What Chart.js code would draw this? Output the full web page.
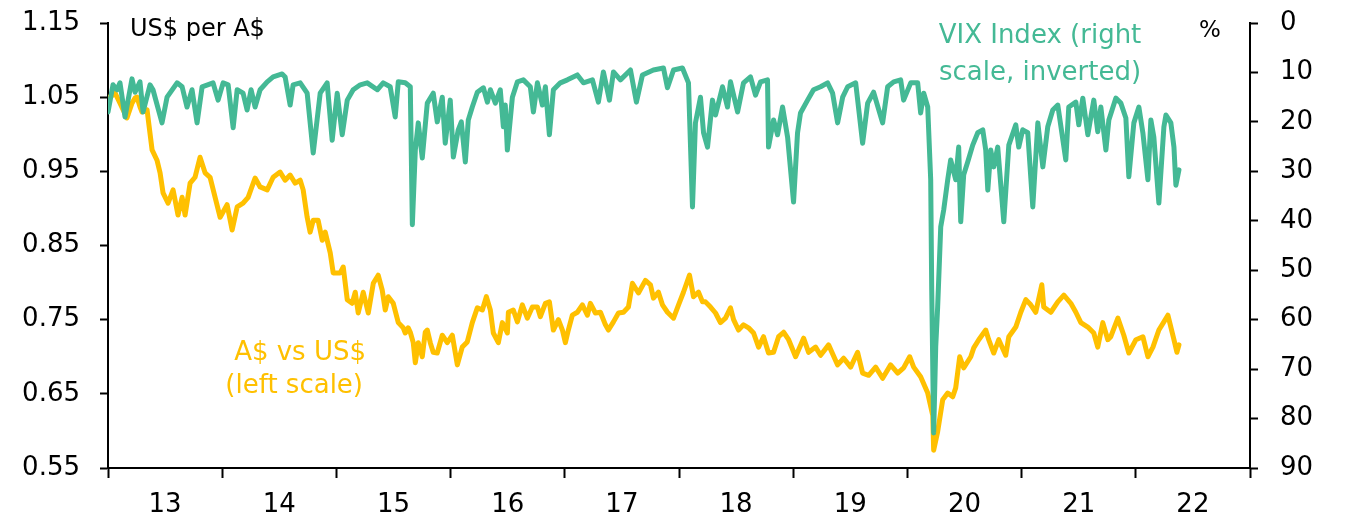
<!DOCTYPE html>
<html><head><meta charset="utf-8">
<script src="https://cdn.jsdelivr.net/npm/chart.js@4.4.0/dist/chart.umd.min.js"></script>
<style>html,body{margin:0;padding:0;background:#fff;} canvas{display:block;}</style>
</head><body>
<canvas id="c" width="1348" height="522"></canvas>
<script>
// ---- tick labels ----
const yearLabels = ['13','14','15','16','17','18','19','20','21','22'];
const leftTicks = [0.55, 0.65, 0.75, 0.85, 0.95, 1.05, 1.15];
const rightTicks = [0, 10, 20, 30, 40, 50, 60, 70, 80, 90];

// ---- VIX index (%, right scale, inverted) ----
const vixDates = [
 2013.000,2013.044,2013.079,2013.105,2013.149,2013.210,2013.237,2013.280,2013.307,2013.368,2013.394,2013.473,2013.517,2013.605,2013.649,2013.692,2013.736,2013.780,2013.824,2013.920,2013.964,
 2014.008,2014.052,2014.096,2014.131,2014.183,2014.218,2014.253,2014.288,2014.332,2014.394,2014.446,2014.525,2014.551,2014.595,2014.621,2014.683,2014.744,2014.797,2014.858,2014.919,2014.963,
 2015.007,2015.051,2015.095,2015.147,2015.209,2015.270,2015.358,2015.410,2015.471,2015.515,2015.542,2015.603,2015.647,2015.665,2015.691,2015.717,2015.752,2015.796,2015.848,2015.883,2015.927,2015.953,2015.997,
 2016.024,2016.067,2016.094,2016.129,2016.155,2016.190,2016.234,2016.287,2016.322,2016.348,2016.392,2016.435,2016.462,2016.479,2016.497,2016.541,2016.585,2016.637,2016.698,2016.725,2016.760,2016.804,2016.830,2016.865,2016.900,2016.961,
 2017.023,2017.110,2017.163,2017.242,2017.294,2017.338,2017.391,2017.426,2017.487,2017.575,2017.627,2017.680,2017.776,2017.864,2017.899,2017.952,
 2018.030,2018.083,2018.118,2018.144,2018.188,2018.215,2018.250,2018.293,2018.320,2018.381,2018.425,2018.451,2018.513,2018.565,2018.626,2018.670,2018.714,2018.775,2018.784,2018.828,2018.863,2018.907,2018.951,
 2019.003,2019.038,2019.064,2019.126,2019.178,2019.240,2019.301,2019.345,2019.389,2019.433,2019.477,2019.547,2019.608,2019.652,2019.704,2019.783,2019.827,2019.880,2019.941,2019.967,
 2020.029,2020.090,2020.116,2020.143,2020.178,2020.204,2020.213,2020.230,2020.248,2020.265,2020.292,2020.318,2020.353,2020.379,2020.423,2020.449,2020.467,2020.493,2020.528,2020.572,2020.616,2020.660,2020.686,2020.704,2020.730,2020.756,2020.791,2020.844,2020.888,2020.949,2020.975,
 2021.010,2021.054,2021.098,2021.142,2021.186,2021.229,2021.273,2021.317,2021.387,2021.413,2021.475,2021.501,2021.536,2021.580,2021.632,2021.667,2021.694,2021.738,2021.764,2021.825,2021.869,2021.913,2021.939,2021.983,
 2022.027,2022.062,2022.106,2022.132,2022.158,2022.202,2022.246,2022.264,2022.307,2022.334,2022.351,2022.378
];
const vixValues = [
 18.0,12.5,13.5,12.1,19.0,11.3,14.0,11.9,18.0,12.5,13.5,20.2,15.0,12.1,12.9,17.0,13.5,20.2,12.9,12.1,15.6,
 12.1,12.5,21.2,13.5,14.2,17.6,13.5,17.0,13.5,11.9,10.9,10.3,10.9,16.6,12.5,12.1,14.2,26.3,14.2,12.1,23.7,
 14.2,22.6,15.6,13.5,12.5,12.1,13.5,12.1,12.9,19.0,11.9,12.1,12.9,40.8,25.7,20.2,27.3,16.2,14.2,20.0,15.0,24.3,15.6,
 27.1,21.6,20.0,28.1,19.6,17.0,14.0,13.1,16.0,13.5,16.2,13.5,21.0,16.6,25.7,15.0,11.9,11.5,12.9,18.0,12.1,16.6,12.9,22.6,13.5,12.1,
 11.5,10.5,12.1,11.5,16.0,9.9,15.6,9.9,11.5,9.5,16.0,10.5,9.5,9.1,13.1,9.5,
 9.1,12.1,37.2,20.2,15.0,22.2,25.1,15.6,18.6,12.9,17.0,11.9,18.0,12.1,10.9,14.6,11.9,11.5,25.1,19.6,22.6,17.0,23.1,
 36.2,22.2,18.2,15.6,13.5,12.9,12.1,14.2,20.2,15.0,12.9,12.1,24.3,16.2,14.0,20.2,12.9,11.9,11.5,15.6,
 12.1,12.1,18.2,14.2,17.0,31.7,54.0,82.9,65.5,57.4,41.2,37.8,31.7,27.7,31.7,25.1,40.2,30.7,28.1,24.7,22.2,21.6,25.7,33.8,25.7,29.1,25.1,40.2,24.7,20.6,25.1,
 21.6,22.2,37.2,20.2,29.1,21.0,17.6,16.6,27.7,17.0,16.0,20.6,15.2,22.6,15.6,22.0,17.0,25.7,19.6,15.2,16.2,19.2,31.1,20.2,
 17.0,22.2,31.7,19.6,23.1,36.4,21.0,18.6,20.2,25.1,32.8,29.7
];

// ---- A$ vs US$ (US$ per A$, left scale) ----
const audDates = [
 2013.009,2013.044,2013.061,2013.105,2013.166,2013.210,2013.237,2013.254,2013.280,2013.298,2013.342,2013.359,2013.386,2013.429,2013.456,2013.482,2013.526,2013.570,2013.613,2013.649,2013.675,2013.719,2013.762,2013.806,2013.850,2013.894,2013.938,2013.982,
 2014.043,2014.087,2014.131,2014.183,2014.227,2014.288,2014.332,2014.394,2014.446,2014.507,2014.551,2014.595,2014.639,2014.683,2014.709,2014.744,2014.770,2014.797,2014.840,2014.876,2014.902,2014.946,2014.972,
 2015.033,2015.060,2015.095,2015.138,2015.165,2015.191,2015.235,2015.279,2015.323,2015.366,2015.401,2015.428,2015.454,2015.498,2015.542,2015.585,2015.603,2015.629,2015.647,2015.673,2015.691,2015.717,2015.752,2015.778,2015.796,2015.822,2015.848,2015.883,2015.927,2015.971,
 2016.015,2016.059,2016.102,2016.146,2016.190,2016.234,2016.278,2016.313,2016.348,2016.374,2016.418,2016.453,2016.497,2016.506,2016.549,2016.585,2016.628,2016.672,2016.716,2016.760,2016.786,2016.830,2016.865,2016.900,2016.944,2016.979,
 2017.005,2017.031,2017.066,2017.110,2017.154,2017.198,2017.224,2017.268,2017.312,2017.356,2017.382,2017.426,2017.470,2017.514,2017.557,2017.592,2017.645,2017.706,2017.750,2017.776,2017.820,2017.855,2017.899,2017.952,2017.996,
 2018.039,2018.092,2018.127,2018.171,2018.206,2018.232,2018.276,2018.320,2018.363,2018.407,2018.451,2018.478,2018.521,2018.565,2018.609,2018.653,2018.697,2018.740,2018.784,2018.828,2018.872,2018.916,2018.960,
 2019.021,2019.091,2019.135,2019.196,2019.240,2019.310,2019.389,2019.442,2019.503,2019.564,2019.608,2019.661,2019.722,2019.783,2019.853,2019.915,2019.967,
 2020.020,2020.055,2020.116,2020.178,2020.222,2020.230,2020.265,2020.309,2020.353,2020.397,2020.423,2020.458,2020.493,2020.555,2020.581,2020.625,2020.686,2020.712,2020.756,2020.800,2020.861,2020.888,2020.949,2020.993,
 2021.037,2021.080,2021.124,2021.177,2021.194,2021.256,2021.317,2021.370,2021.431,2021.475,2021.519,2021.580,2021.632,2021.667,2021.711,2021.755,2021.781,2021.843,2021.895,2021.939,
 2022.001,2022.062,2022.106,2022.150,2022.202,2022.246,2022.281,2022.307,2022.334,2022.360,2022.378
];
const audValues = [
 1.050,1.053,1.056,1.042,1.022,1.042,1.049,1.050,1.037,1.030,1.033,1.012,0.979,0.965,0.948,0.921,0.907,0.925,0.891,0.915,0.891,0.934,0.942,0.969,0.948,0.942,0.915,0.888,
 0.905,0.871,0.902,0.907,0.915,0.941,0.929,0.925,0.942,0.949,0.938,0.945,0.934,0.938,0.925,0.888,0.868,0.884,0.884,0.857,0.868,0.840,0.813,
 0.813,0.821,0.777,0.772,0.787,0.759,0.787,0.759,0.799,0.810,0.790,0.763,0.781,0.772,0.746,0.739,0.732,0.739,0.733,0.719,0.692,0.719,0.700,0.733,0.736,0.719,0.706,0.705,0.729,0.719,
 0.729,0.689,0.713,0.720,0.746,0.766,0.763,0.781,0.763,0.732,0.719,0.746,0.732,0.760,0.763,0.747,0.770,0.752,0.767,0.767,0.754,0.772,0.774,0.736,0.750,0.736,
 0.719,0.736,0.756,0.760,0.770,0.756,0.772,0.759,0.760,0.743,0.736,0.747,0.759,0.760,0.767,0.799,0.786,0.803,0.797,0.779,0.787,0.770,0.760,0.752,0.770,
 0.787,0.810,0.781,0.787,0.774,0.774,0.767,0.759,0.746,0.752,0.766,0.750,0.736,0.743,0.739,0.732,0.713,0.727,0.705,0.706,0.727,0.733,0.723,
 0.700,0.725,0.706,0.713,0.702,0.716,0.689,0.698,0.686,0.706,0.678,0.675,0.686,0.671,0.689,0.678,0.685,
 0.700,0.686,0.673,0.651,0.621,0.574,0.599,0.642,0.651,0.646,0.658,0.700,0.685,0.700,0.712,0.723,0.736,0.723,0.705,0.723,0.702,0.727,0.740,0.760,
 0.777,0.770,0.760,0.797,0.767,0.760,0.774,0.783,0.772,0.760,0.746,0.740,0.732,0.713,0.746,0.723,0.727,0.752,0.729,0.705,
 0.723,0.727,0.700,0.713,0.736,0.747,0.756,0.740,0.723,0.706,0.716
];

// ---- styling ----
const GREEN = '#44B995';
const GOLD = '#FFC000';
const FONT = "'DejaVu Sans', sans-serif";
const toPoints = (xs, ys) => xs.map((x, i) => ({ x: x, y: ys[i] }));

const notesPlugin = {
  id: 'notes',
  afterDraw(chart) {
    const ctx = chart.ctx;
    ctx.save();
    ctx.textBaseline = 'alphabetic';
    const put = (txt, x, y, align, color, size) => {
      ctx.font = size + 'px ' + FONT;
      ctx.fillStyle = color;
      ctx.textAlign = align;
      ctx.fillText(txt, x, y);
    };
    put('US$ per A$', 130, 36, 'left', '#000', 24);
    put('%', 1199, 37, 'left', '#000', 23);
    put('VIX Index (right', 1040, 43, 'center', GREEN, 26);
    put('scale, inverted)', 1040, 80, 'center', GREEN, 26);
    put('A$ vs US$', 366, 360, 'right', GOLD, 26);
    put('(left scale)', 363, 393, 'right', GOLD, 26);
    ctx.restore();
  }
};

const tickFont = { family: FONT, size: 26 };
const noVPad = s => { s.paddingTop = 0; s.paddingBottom = 0; };

new Chart(document.getElementById('c'), {
  type: 'line',
  data: {
    datasets: [
      { label: 'VIX Index', data: toPoints(vixDates, vixValues), yAxisID: 'yR',
        borderColor: GREEN, borderWidth: 5, pointRadius: 0, tension: 0,
        borderJoinStyle: 'round', borderCapStyle: 'round', fill: false, order: 0 },
      { label: 'A$ vs US$', data: toPoints(audDates, audValues), yAxisID: 'yL',
        borderColor: GOLD, borderWidth: 5, pointRadius: 0, tension: 0,
        borderJoinStyle: 'round', borderCapStyle: 'round', fill: false, order: 1 }
    ]
  },
  options: {
    responsive: false,
    animation: false,
    events: [],
    layout: { padding: { top: 23, left: 0, right: 0, bottom: 0 } },
    plugins: { legend: { display: false }, tooltip: { enabled: false } },
    scales: {
      x: {
        type: 'linear', min: 2013, max: 2023,
        afterBuildTicks: s => {
          const t = [];
          for (let i = 0; i <= yearLabels.length; i++) {
            t.push({ value: 2013 + i });
            if (i < yearLabels.length) t.push({ value: 2013.5 + i });
          }
          s.ticks = t;
        },
        afterFit: s => { s.height = 54; s.paddingLeft = 0; s.paddingRight = 0; },
        ticks: {
          autoSkip: false, maxRotation: 0, minRotation: 0, padding: 12,
          color: '#000', font: tickFont,
          callback: v => Number.isInteger(v) ? '' : yearLabels[Math.floor(v) - 2013]
        },
        grid: {
          drawOnChartArea: false, drawTicks: true, tickLength: 10, tickWidth: 2,
          tickColor: c => (c.tick && Number.isInteger(c.tick.value)) ? '#000' : 'rgba(0,0,0,0)'
        },
        border: { color: '#000', width: 2 }
      },
      yL: {
        position: 'left', min: 0.55, max: 1.15,
        afterBuildTicks: s => { s.ticks = leftTicks.map(v => ({ value: v })); },
        afterFit: s => { s.width = 108; noVPad(s); },
        ticks: { padding: 20, color: '#000', font: tickFont, callback: v => Number(v).toFixed(2) },
        grid: { drawOnChartArea: false, drawTicks: true, tickLength: 8, tickWidth: 2, tickColor: '#000' },
        border: { color: '#000', width: 2 }
      },
      yR: {
        position: 'right', reverse: true, min: 0, max: 90,
        afterBuildTicks: s => { s.ticks = rightTicks.map(v => ({ value: v })); },
        afterFit: s => { s.width = 98; noVPad(s); },
        ticks: { padding: 22, color: '#000', font: tickFont, callback: v => String(v) },
        grid: { drawOnChartArea: false, drawTicks: true, tickLength: 8, tickWidth: 2, tickColor: '#000' },
        border: { color: '#000', width: 2 }
      }
    }
  },
  plugins: [notesPlugin]
});
</script>
</body></html>
